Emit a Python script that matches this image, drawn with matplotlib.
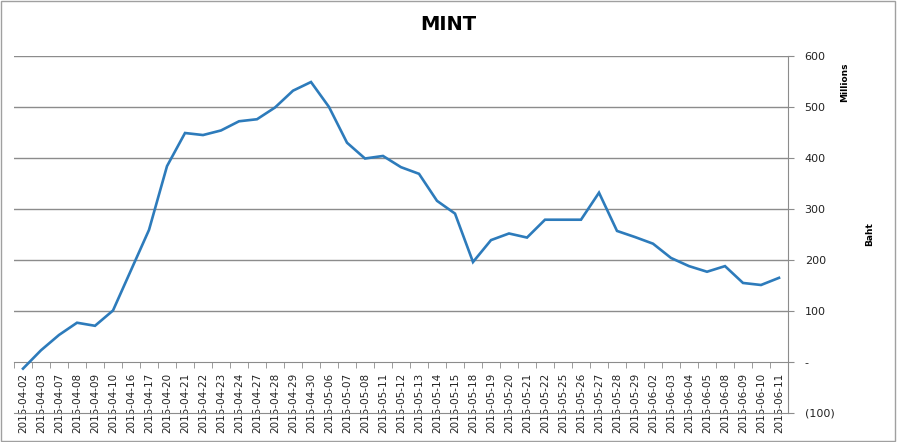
import matplotlib
matplotlib.use('Agg')
import matplotlib.pyplot as plt
import matplotlib.patches as patches
import numpy as np

# datos (millones de baht)
fechas = ['2015-04-02', '2015-04-03', '2015-04-07', '2015-04-08', '2015-04-09',
          '2015-04-10', '2015-04-16', '2015-04-17', '2015-04-20', '2015-04-21',
          '2015-04-22', '2015-04-23', '2015-04-24', '2015-04-27', '2015-04-28',
          '2015-04-29', '2015-04-30', '2015-05-06', '2015-05-07', '2015-05-08',
          '2015-05-11', '2015-05-12', '2015-05-13', '2015-05-14', '2015-05-15',
          '2015-05-18', '2015-05-19', '2015-05-20', '2015-05-21', '2015-05-22',
          '2015-05-25', '2015-05-26', '2015-05-27', '2015-05-28', '2015-05-29',
          '2015-06-02', '2015-06-03', '2015-06-04', '2015-06-05', '2015-06-08',
          '2015-06-09', '2015-06-10', '2015-06-11']
valores = [-13, 23, 53, 77, 71, 101, 180, 259, 384, 449,
           445, 454, 472, 476, 499, 532, 549, 500, 430, 399,
           404, 382, 369, 316, 291, 196, 239, 252, 244, 279,
           279, 279, 332, 257, 245, 232, 204, 188, 177, 188,
           155, 151, 165]
y_ticks = [-100, 0, 100, 200, 300, 400, 500, 600]
y_labels = ['(100)', '-', '100', '200', '300', '400', '500', '600']

gris = '#8c8c8c'
azul = '#2d7bbb'

fig = plt.figure(figsize=(8.97, 4.42), dpi=100)
ax = fig.add_axes([14/897, 1 - 413/442, (788 - 14)/897, (413 - 56)/442])

x = np.arange(len(valores)) + 0.5
ax.plot(x, valores, color=azul, lw=1.9, solid_joinstyle='miter', zorder=3)

ax.set_xlim(0, len(valores))
ax.set_ylim(-100, 600)

# lineas de la cuadricula
for v in y_ticks[2:]:
    ax.axhline(v, color=gris, lw=1, zorder=1)

for s in ['left', 'top']:
    ax.spines[s].set_visible(False)
ax.spines['right'].set_color(gris)
ax.spines['bottom'].set_color(gris)

ax.set_xticks([])
ax.yaxis.tick_right()
ax.set_yticks(y_ticks)
ax.set_yticklabels(y_labels)
ax.tick_params(axis='y', direction='out', length=4, color=gris,
               labelsize=8, labelcolor='#222222', pad=8)

# eje de categorias cruzando en cero
pos0 = (0 - (-100)) / 700.
sec = ax.secondary_xaxis(pos0)
sec.spines['bottom'].set_color(gris)
sec.set_xticks(x)
sec.set_xticklabels(fechas, rotation=90, fontsize=7.5, color='#222222')
sec.set_xticks(np.arange(len(valores) + 1), minor=True)
sec.tick_params(axis='x', which='major', length=0, pad=8)
sec.tick_params(axis='x', which='minor', length=4, color=gris, direction='out')

fig.text(0.5, 1 - 25/442, 'MINT', ha='center', va='center',
         fontsize=14, fontweight='bold')
fig.text(845/897, 1 - 82/442, 'Millions', ha='center', va='center',
         rotation=90, fontsize=6.5, fontweight='bold')
fig.text(870/897, 1 - 234/442, 'Baht', ha='center', va='center',
         rotation=90, fontsize=6.5, fontweight='bold')

# borde del grafico
fig.patches.append(patches.Rectangle((0.001, 0.002), 0.997, 0.996,
                                     transform=fig.transFigure, fill=False,
                                     edgecolor='#a0a0a0', lw=1))

fig.savefig('out.png', dpi=100)
plt.close('all')
